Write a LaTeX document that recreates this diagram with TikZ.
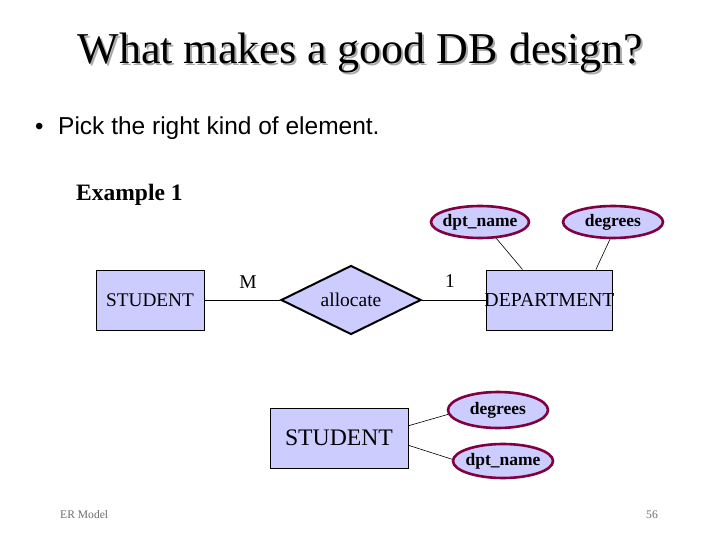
\documentclass[tikz,border=0pt]{standalone}
\usepackage{fontspec}
\setmainfont{Liberation Serif}
\newfontfamily\arialf{Liberation Sans}
\usetikzlibrary{shapes.geometric}
\definecolor{erfill}{RGB}{204,204,255}
\definecolor{attrline}{RGB}{128,0,64}
\definecolor{shadowgray}{RGB}{170,170,170}
\definecolor{footgray}{RGB}{110,110,110}
\newcommand{\shadowtext}[1]{\rlap{\kern2pt\raisebox{-2pt}{\textcolor{shadowgray}{#1}}}#1}
\tikzset{
  entity/.style={draw=black, line width=0.9pt, fill=erfill, rectangle, inner sep=0pt},
  relbox/.style={draw=black, line width=2pt, fill=erfill, diamond, aspect=2.06, inner sep=0pt,
    minimum width=140pt, minimum height=69pt, font=\fontsize{19.5}{22}\selectfont},
  attr/.style={draw=attrline, line width=2.6pt, fill=erfill, ellipse, inner sep=0pt},
  attrtxt/.style={font=\bfseries\fontsize{17.5}{20}\selectfont},
  conn/.style={draw=black, line width=1pt},
  aconn/.style={draw=black, line width=0.6pt},
  card/.style={font=\fontsize{19.5}{22}\selectfont, inner sep=0pt},
}
\begin{document}
\begin{tikzpicture}[x=1pt, y=-1pt]
\useasboundingbox[fill=white] (0,0) rectangle (720,540);
% title
\node[anchor=base, font=\fontsize{44}{50}\selectfont, inner sep=0pt] (title) at (360.5,64) {\shadowtext{What makes a good DB design?}};
% bullet
\node[anchor=base west, font=\arialf\fontsize{24}{28}\selectfont, inner sep=0pt] (bul) at (35,135) {•};
\node[anchor=base west, font=\arialf\fontsize{24.5}{28}\selectfont, inner sep=0pt] (pick) at (58,135) {Pick the right kind of element.};
\node[anchor=base west, font=\bfseries\fontsize{23.5}{26}\selectfont, inner sep=0pt] (ex) at (76,201) {Example 1};
% example 1
\node[entity, minimum width=108pt, minimum height=60pt, font=\fontsize{19.3}{22}\selectfont] (stu) at (150,300) {STUDENT};
\node[relbox] (alloc) at (351,300) {allocate};
\node[entity, minimum width=126pt, minimum height=60pt] (dept) at (549,300) {};
\node[attr, minimum width=98pt, minimum height=32pt, label={[attrtxt]center:dpt\_name}] (dn) at (480,222) {};
\node[attr, minimum width=100pt, minimum height=32pt, label={[attrtxt]center:degrees}] (dg) at (613,222) {};
\draw[conn] (stu.east) -- (alloc.west);
\draw[conn] (alloc.east) -- (dept.west);
\node[font=\fontsize{19.8}{22}\selectfont, inner sep=0pt] (depttxt) at (549.5,300) {DEPARTMENT};
\draw[aconn] (dn.-45) -- (dept.131);
\draw[aconn] (dg.-100) -- (dept.33);
\node[card] (m) at (248,282) {M};
\node[card] (one) at (450,281) {1};
% second
\node[entity, minimum width=138pt, minimum height=60pt, font=\fontsize{23.7}{26}\selectfont] (stu2) at (339,438) {STUDENT};
\node[attr, minimum width=100pt, minimum height=36pt, label={[attrtxt]center:degrees}] (dg2) at (498,410) {};
\node[attr, minimum width=100pt, minimum height=34pt, label={[attrtxt]center:dpt\_name}] (dn2) at (503,461) {};
\draw[aconn] (stu2.10) -- (dg2.185);
\draw[aconn] (stu2.-6) -- (dn2.178);
% footer
\node[anchor=base west, text=footgray, font=\fontsize{11.6}{13}\selectfont, inner sep=0pt] (foot) at (60,518) {ER Model};
\node[anchor=base east, text=footgray, font=\fontsize{11.6}{13}\selectfont, inner sep=0pt] (pg) at (658,518) {56};
\end{tikzpicture}
\end{document}
